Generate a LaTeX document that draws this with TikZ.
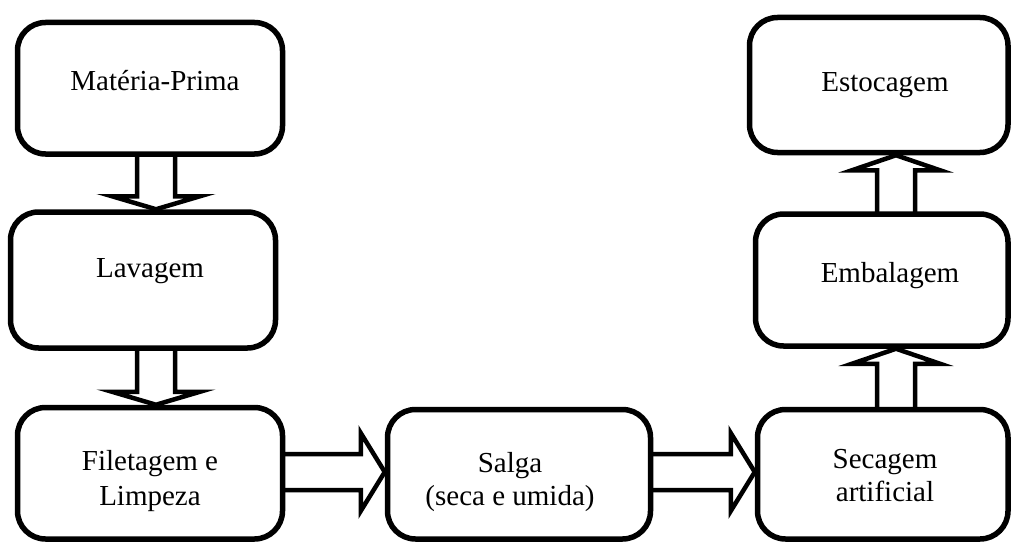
\documentclass[tikz,border=0pt]{standalone}
\usepackage{fontspec}
\setmainfont{Liberation Serif}
\usetikzlibrary{calc,backgrounds}
\begin{document}
\begin{tikzpicture}[x=1pt,y=-1pt,
  box/.style={draw=black,fill=white,line width=5.5pt,rounded corners=28pt,inner sep=0pt},
  blk/.style={draw=black,fill=white,line width=4.5pt,line join=miter},
  txt/.style={font=\fontsize{29}{34}\selectfont,inner sep=0pt,anchor=base}]
\useasboundingbox (0,0) rectangle (1012,543);
% boxes
\node[box,minimum width=265pt,minimum height=131.5pt] (b1) at (150,88.25) {};
\node[box,minimum width=265pt,minimum height=136pt] (b2) at (143,280) {};
\node[box,minimum width=265pt,minimum height=131.5pt] (b3) at (150,473.25) {};
\node[box,minimum width=263pt,minimum height=129.5pt] (b4) at (519,474.25) {};
\node[box,minimum width=250.5pt,minimum height=129.5pt] (b5) at (882.75,474.25) {};
\node[box,minimum width=252.5pt,minimum height=132pt] (b6) at (881.75,280) {};
\node[box,minimum width=258.5pt,minimum height=135pt] (b7) at (878.75,85) {};
% texts
\node[txt] (t1) at (155,90) {Matéria-Prima};
\node[txt] (t2) at (150,277) {Lavagem};
\node[txt] (t3a) at (150,470) {Filetagem e};
\node[txt] (t3b) at (150,505) {Limpeza};
\node[txt] (t4a) at (510,472) {Salga};
\node[txt] (t4b) at (510,505) {(seca e umida)};
\node[txt] (t5a) at (885,468) {Secagem};
\node[txt] (t5b) at (885,501) {artificial};
\node[txt] (t6) at (890,282) {Embalagem};
\node[txt] (t7) at (885,92) {Estocagem};
% arrows
\begin{scope}[on background layer]
% down arrows
\path (156,0 |- b1.south) coordinate (a1s) (156,0 |- b2.north) coordinate (a1t);
\draw[blk] ($(a1s)+(-19,-6)$) -- ($(a1t)+(-19,-13)$) -- ($(a1t)+(-44,-13)$) -- (a1t)
  -- ($(a1t)+(44,-13)$) -- ($(a1t)+(19,-13)$) -- ($(a1s)+(19,-6)$) -- cycle;
\path (156,0 |- b2.south) coordinate (a2s) (156,0 |- b3.north) coordinate (a2t);
\draw[blk] ($(a2s)+(-19,-6)$) -- ($(a2t)+(-19,-13)$) -- ($(a2t)+(-44,-13)$) -- (a2t)
  -- ($(a2t)+(44,-13)$) -- ($(a2t)+(19,-13)$) -- ($(a2s)+(19,-6)$) -- cycle;
% horizontal arrows
\path (b3.east |- 0,472) coordinate (h1s) (b4.west |- 0,472) coordinate (h1t);
\draw[blk] ($(h1s)+(-6,-18)$) -- ($(h1t)+(-24,-18)$) -- ($(h1t)+(-24,-39)$) -- (h1t)
  -- ($(h1t)+(-24,39)$) -- ($(h1t)+(-24,18)$) -- ($(h1s)+(-6,18)$) -- cycle;
\path (b4.east |- 0,472) coordinate (h2s) (b5.west |- 0,472) coordinate (h2t);
\draw[blk] ($(h2s)+(-6,-18)$) -- ($(h2t)+(-24,-18)$) -- ($(h2t)+(-24,-39)$) -- (h2t)
  -- ($(h2t)+(-24,39)$) -- ($(h2t)+(-24,18)$) -- ($(h2s)+(-6,18)$) -- cycle;
% up arrows
\path (896,0 |- b5.north) coordinate (u1s) (896,0 |- b6.south) coordinate (u1t);
\draw[blk] ($(u1s)+(-19,6)$) -- ($(u1t)+(-19,15)$) -- ($(u1t)+(-44,15)$) -- (u1t)
  -- ($(u1t)+(44,15)$) -- ($(u1t)+(19,15)$) -- ($(u1s)+(19,6)$) -- cycle;
\path (896,0 |- b6.north) coordinate (u2s) (896,0 |- b7.south) coordinate (u2t);
\draw[blk] ($(u2s)+(-19,6)$) -- ($(u2t)+(-19,15)$) -- ($(u2t)+(-44,15)$) -- (u2t)
  -- ($(u2t)+(44,15)$) -- ($(u2t)+(19,15)$) -- ($(u2s)+(19,6)$) -- cycle;
\end{scope}
\end{tikzpicture}
\end{document}
